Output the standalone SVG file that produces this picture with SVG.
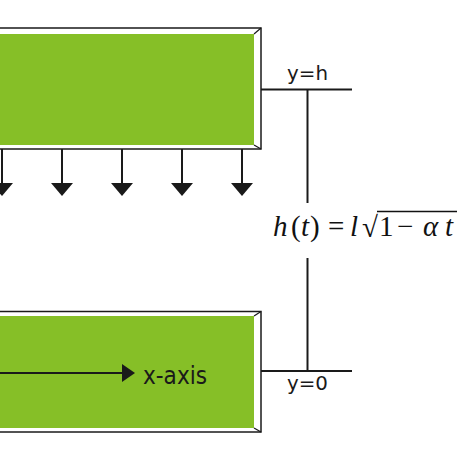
<svg xmlns="http://www.w3.org/2000/svg" width="474" height="474" viewBox="0 0 474 474">
<defs>
<style>
.frame{fill:#ffffff;stroke:#1a1a1a;stroke-width:1.5}
.green{fill:#86bf27}
.bevel{stroke:#1a1a1a;stroke-width:1.2;fill:none}
.line{stroke:#1a1a1a;stroke-width:2;fill:none}
.lbl{font-family:"DejaVu Sans","Liberation Sans",sans-serif;fill:#1a1a1a}
.math{font-family:"Liberation Serif","Times New Roman",serif;fill:#111;font-size:29px}
.it{font-style:italic}
</style>
</defs>
<rect width="474" height="474" fill="#ffffff"/>
<g id="top-plate">
<rect class="frame" x="-10" y="28" width="271" height="121"/>
<rect class="green" x="-10" y="34" width="264" height="111"/>
<line class="bevel" x1="254" y1="34" x2="261" y2="28"/>
<line class="bevel" x1="254" y1="145" x2="261" y2="149"/>
</g>
<g id="bottom-plate">
<rect class="frame" x="-10" y="311.5" width="271" height="120.5"/>
<rect class="green" x="-10" y="316" width="264" height="112"/>
<line class="bevel" x1="254" y1="316" x2="261" y2="311.5"/>
<line class="bevel" x1="254" y1="428" x2="261" y2="432"/>
</g>
<g id="connectors">
<g id="load-arrows" fill="#1a1a1a">
<line class="line" x1="2" y1="149" x2="2" y2="184"/><path d="M-9,183 L13,183 L2,196 Z"/>
<line class="line" x1="62" y1="149" x2="62" y2="184"/><path d="M51,183 L73,183 L62,196 Z"/>
<line class="line" x1="122" y1="149" x2="122" y2="184"/><path d="M111,183 L133,183 L122,196 Z"/>
<line class="line" x1="182" y1="149" x2="182" y2="184"/><path d="M171,183 L193,183 L182,196 Z"/>
<line class="line" x1="242" y1="149" x2="242" y2="184"/><path d="M231,183 L253,183 L242,196 Z"/>
</g>
<g id="x-axis-arrow" fill="#1a1a1a">
<line class="line" x1="0" y1="373" x2="123" y2="373"/>
<path d="M122,364 L135,373 L122,382 Z"/>
</g>
<g id="dimension">
<line class="line" x1="261" y1="89.5" x2="352" y2="89.5"/>
<line class="line" x1="307.5" y1="89.5" x2="307.5" y2="203"/>
<line class="line" x1="307.5" y1="258" x2="307.5" y2="371"/>
<line class="line" x1="261" y1="371" x2="352" y2="371"/>
</g>
</g>
<g id="labels">
<text class="lbl" x="287" y="80" font-size="20" textLength="41" lengthAdjust="spacingAndGlyphs">y=h</text>
<text class="lbl" x="287" y="390" font-size="20" textLength="41" lengthAdjust="spacingAndGlyphs">y=0</text>
<text class="lbl" x="143" y="384" font-size="25" textLength="64" lengthAdjust="spacingAndGlyphs">x-axis</text>
<text class="math" y="236"><tspan class="it" x="273">h</tspan><tspan x="291">(</tspan><tspan class="it" x="301">t</tspan><tspan x="310">)</tspan><tspan x="328">=</tspan><tspan class="it" x="350">l</tspan><tspan x="379">1</tspan><tspan x="397">−</tspan><tspan class="it" x="423">α</tspan><tspan class="it" x="445">t</tspan></text>
<text class="math" x="362" y="237" font-size="34">√</text>
<line x1="377" y1="211.5" x2="457" y2="211.5" stroke="#111" stroke-width="1.4"/>
</g>
</svg>
